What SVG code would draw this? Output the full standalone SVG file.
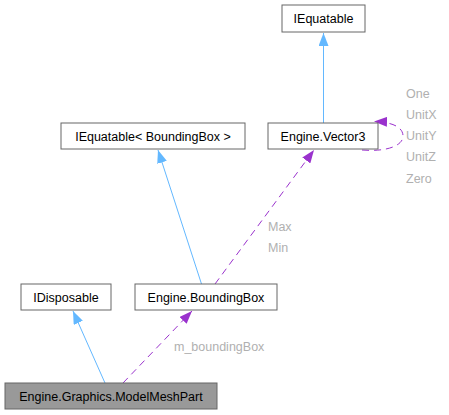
<svg xmlns="http://www.w3.org/2000/svg" width="449" height="415" viewBox="0 0 449 415">
<defs>
<style>
.box{fill:#fff;stroke:#666;stroke-width:1}
.cur{fill:#999;stroke:#666;stroke-width:1}
.t{font-family:"Liberation Sans",Arial,sans-serif;font-size:12.5px;fill:#000;text-anchor:middle}
.lbl{font-family:"Liberation Sans",Arial,sans-serif;font-size:12.5px;fill:#b0b0b0}
.inh{fill:none;stroke:#63b8ff;stroke-width:1}
.use{fill:none;stroke:#9a32cd;stroke-width:1;stroke-dasharray:7,5}
</style>
<marker id="ab" viewBox="0 0 13 10" refX="13" refY="5" markerWidth="13" markerHeight="10" markerUnits="userSpaceOnUse" orient="auto">
<path d="M0,0 L13,5 L0,10 Z" fill="#63b8ff"/>
</marker>
<marker id="ap" viewBox="0 0 13 10" refX="13" refY="5" markerWidth="13" markerHeight="10" markerUnits="userSpaceOnUse" orient="auto">
<path d="M0,0 L13,5 L0,10 Z" fill="#9a32cd"/>
</marker>
</defs>
<rect width="449" height="415" fill="#fff"/>
<g id="connectors">
<path class="inh" d="M323.5,123 L323.5,33" marker-end="url(#ab)"/>
<path class="inh" d="M201.5,284 L158,150" marker-end="url(#ab)"/>
<path class="inh" d="M105,383 L73,311" marker-end="url(#ab)"/>
<path class="use" d="M123,383 L192,311" marker-end="url(#ap)"/>
<path class="use" d="M215,284 L314,150" marker-end="url(#ap)"/>
<path class="use" d="M362,150 C386,152 403,146 403,136 C403,127 392,122 374,121.5" marker-end="url(#ap)"/>
<text class="lbl" x="174" y="351">m_boundingBox</text>
<text class="lbl" x="268" y="231">Max</text>
<text class="lbl" x="268" y="252">Min</text>
<text class="lbl" x="406" y="98">One</text>
<text class="lbl" x="406" y="119">UnitX</text>
<text class="lbl" x="406" y="140">UnitY</text>
<text class="lbl" x="406" y="161">UnitZ</text>
<text class="lbl" x="406" y="183">Zero</text>
</g>
<g id="IEquatable">
<rect class="box" x="282" y="5" width="83" height="27"/>
<text class="t" x="323.5" y="23">IEquatable</text>
</g>
<g id="Vector3">
<rect class="box" x="268" y="123" width="110" height="26"/>
<text class="t" x="323" y="140.5">Engine.Vector3</text>
</g>
<g id="IEquatableBB">
<rect class="box" x="61" y="123" width="184" height="26"/>
<text class="t" x="153" y="140.5">IEquatable&lt; BoundingBox &gt;</text>
</g>
<g id="IDisposable">
<rect class="box" x="21" y="284" width="90" height="26"/>
<text class="t" x="66" y="301.5">IDisposable</text>
</g>
<g id="BoundingBox">
<rect class="box" x="135" y="284" width="142" height="26"/>
<text class="t" x="206" y="301.5">Engine.BoundingBox</text>
</g>
<g id="ModelMeshPart">
<rect class="cur" x="5" y="383" width="212" height="26"/>
<text class="t" x="111" y="400.5">Engine.Graphics.ModelMeshPart</text>
</g>
</svg>
